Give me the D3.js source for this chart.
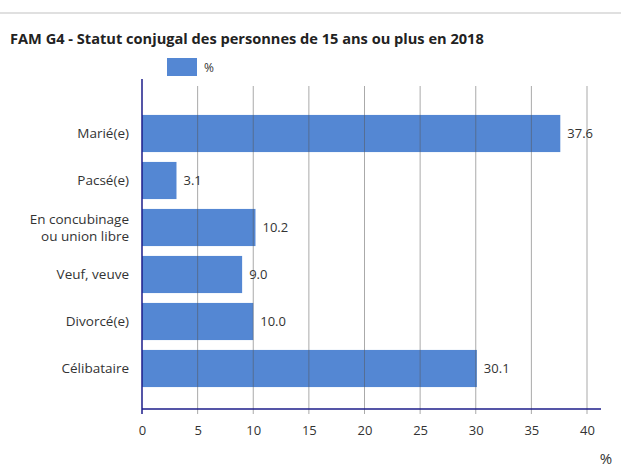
<!DOCTYPE html>
<html>
<head>
<meta charset="utf-8">
<script src="https://cdn.jsdelivr.net/npm/d3@7"></script>
<style>
body{margin:0;background:#fff;}
text{font-family:"Open Sans",sans-serif;fill:#333;}
</style>
</head>
<body>
<div id="plot"></div>
<script>
// data
var categories = ['Marié(e)','Pacsé(e)','En concubinage|ou union libre','Veuf, veuve','Divorcé(e)','Célibataire'];
var values = [37.6, 3.1, 10.2, 9.0, 10.0, 30.1];
var xTicks = [0,5,10,15,20,25,30,35,40];

var W = 621, H = 474;
var svg = d3.select('#plot').append('svg')
    .attr('width',W).attr('height',H);

// top rule
svg.append('rect').attr('x',0).attr('y',12).attr('width',W).attr('height',2).attr('fill','#e0e0e0');

svg.append('text')
    .attr('x',10).attr('y',44)
    .style('font-size','14.6px').style('font-weight','bold').style('fill','#222')
    .text('FAM G4 - Statut conjugal des personnes de 15 ans ou plus en 2018');

// legend
svg.append('rect').attr('x',167).attr('y',58).attr('width',30).attr('height',18).attr('fill','#5487d3');
svg.append('text').attr('x',204).attr('y',72).style('font-size','12px').text('%');

var x = d3.scaleLinear().domain([0,40]).range([142,587]);
var y = d3.scaleBand().domain(categories).range([110,392]).paddingInner(0.21).paddingOuter(0.105);

var axisY = 409;

// bars
svg.selectAll('.bar').data(values).enter().append('rect')
    .attr('class','bar')
    .attr('x',x(0))
    .attr('y',function(d,i){return y(categories[i]);})
    .attr('width',function(d){return x(d)-x(0);})
    .attr('height',y.bandwidth())
    .attr('fill','#5487d3');

// grid lines on top
svg.selectAll('.grid').data(xTicks.slice(1)).enter().append('line')
    .attr('x1',function(d){return x(d);}).attr('x2',function(d){return x(d);})
    .attr('y1',86).attr('y2',axisY+5)
    .attr('stroke','#555').attr('stroke-opacity',0.5).attr('stroke-width',1);

// axes
svg.append('line').attr('x1',x(0)).attr('x2',x(0)).attr('y1',79).attr('y2',axisY+5)
    .attr('stroke','#1c1c8a').attr('stroke-width',1.5);
svg.append('line').attr('x1',x(0)).attr('x2',601).attr('y1',axisY).attr('y2',axisY)
    .attr('stroke','#1c1c8a').attr('stroke-width',1.5);

var xAxis = svg.append('g').attr('transform','translate(0,'+axisY+')')
    .call(d3.axisBottom(x).tickValues(xTicks).tickSize(0).tickPadding(17));
xAxis.select('.domain').remove();
xAxis.selectAll('text').style('font-size','13px').style('fill','#333').attr('font-family','"Open Sans",sans-serif');

svg.append('text').attr('x',606).attr('y',464).attr('text-anchor','middle').style('font-size','15px').text('%');

// category labels
categories.forEach(function(c,i){
    var parts = c.split('|');
    var cy = y(c)+y.bandwidth()/2;
    var t = svg.append('text').attr('text-anchor','end').style('font-size','13.5px');
    parts.forEach(function(p,j){
        t.append('tspan').attr('x',129)
            .attr('y',cy + (j-(parts.length-1)/2)*17)
            .attr('dy','0.35em').text(p);
    });
});

// value labels
svg.selectAll('.val').data(values).enter().append('text')
    .attr('x',function(d){return x(d)+7;})
    .attr('y',function(d,i){return y(categories[i])+y.bandwidth()/2;})
    .attr('dy','0.35em')
    .style('font-size','13px')
    .text(function(d){return d.toFixed(1);});
</script>
</body>
</html>
